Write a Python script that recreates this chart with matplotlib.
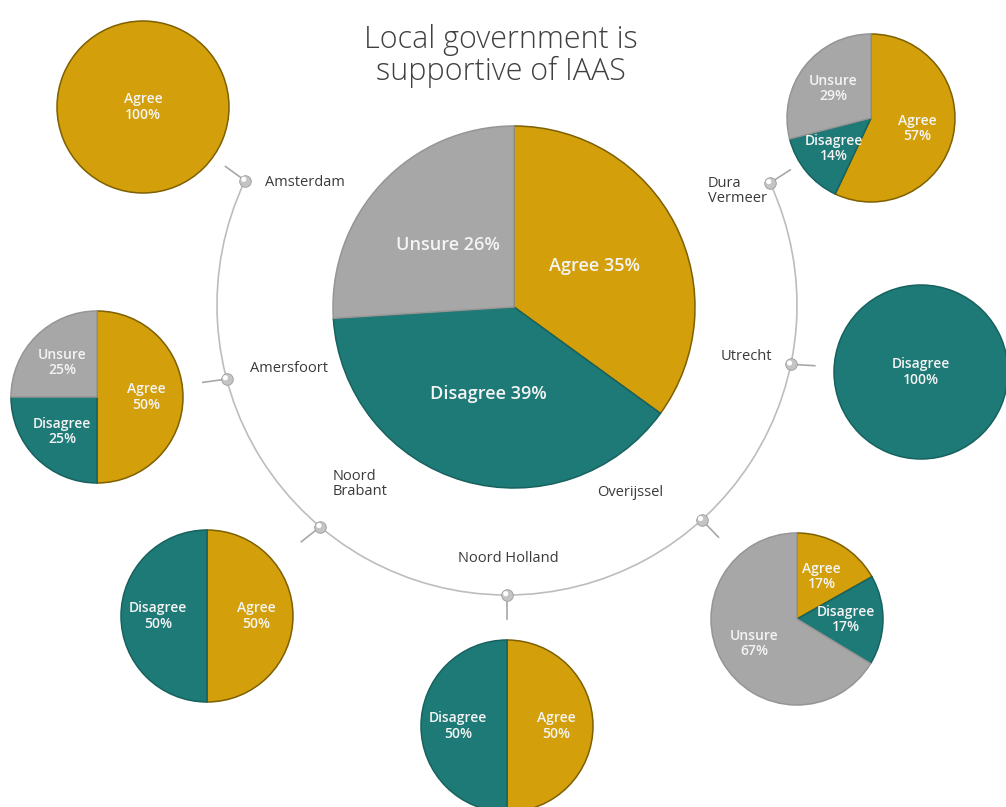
import numpy as np
import matplotlib.pyplot as plt
from matplotlib.patches import Arc

plt.rcParams['font.family'] = ['Open Sans', 'DejaVu Sans']

# survey answers, per location (percent)
locations = ["Overall", "Amsterdam", "Dura Vermeer", "Amersfoort", "Utrecht",
             "Noord Brabant", "Noord Holland", "Overijssel"]
answers = ["Agree", "Disagree", "Unsure"]
agree = [35, 100, 57, 50, 0, 50, 50, 17]
disagree = [39, 0, 14, 25, 100, 50, 50, 17]
unsure = [26, 0, 29, 25, 0, 0, 0, 67]

colors = {"Agree": "#D3A00B", "Disagree": "#1E7A77", "Unsure": "#A7A7A7"}
edges = {"Agree": "#7E6000", "Disagree": "#17625F", "Unsure": "#959595"}

W, H = 1006, 807

def Y(y):
    return H - y

# pie centre (px from top-left) and radius
pie_pos = {
    "Overall": (514, 307, 181),
    "Amsterdam": (143, 107, 86),
    "Dura Vermeer": (871, 118, 84),
    "Amersfoort": (97, 397, 86),
    "Utrecht": (921, 372, 87),
    "Noord Brabant": (207, 616, 86),
    "Noord Holland": (507, 726, 86),
    "Overijssel": (797, 619, 86),
}
# ring with beads
ring_c = (507, 305)
ring_r = 290
bead_angle = {"Amsterdam": 154.6, "Dura Vermeer": 24.9, "Amersfoort": 194.8,
              "Utrecht": 348.2, "Noord Brabant": 229.9, "Noord Holland": 270,
              "Overijssel": 312.2}
label_pos = {
    "Amsterdam": (265, 183, "left"),
    "Dura Vermeer": (708, 191, "left"),
    "Amersfoort": (250, 368, "left"),
    "Utrecht": (721, 356, "left"),
    "Noord Brabant": (333, 484, "left"),
    "Noord Holland": (508, 558, "center"),
    "Overijssel": (597, 493, "left"),
}
label_text = {"Dura Vermeer": "Dura\nVermeer", "Noord Brabant": "Noord\nBrabant"}

fig = plt.figure(figsize=(W / 100, H / 100), dpi=100)
ax = fig.add_axes([0, 0, 1, 1])

# ring
ax.add_patch(Arc((ring_c[0], Y(ring_c[1])), 2 * ring_r, 2 * ring_r,
                 theta1=bead_angle["Amsterdam"], theta2=bead_angle["Dura Vermeer"] + 360,
                 color="#BDBDBD", lw=1.2, zorder=1))

for i, loc in enumerate(locations):
    cx, cy, r = pie_pos[loc]
    vals = [agree[i], disagree[i], unsure[i]]
    names = [a for a, v in zip(answers, vals) if v > 0]
    vals = [v for v in vals if v > 0]
    if loc == "Overall":
        labs = [f"{n} {v}%" for n, v in zip(names, vals)]
        fs, ld = 13, 0.5
    else:
        labs = [f"{n}\n{v}%" for n, v in zip(names, vals)]
        fs, ld = 10, 0.57
    wedges, texts = ax.pie(vals, labels=labs, colors=[colors[n] for n in names],
                           startangle=90, counterclock=False, center=(cx, Y(cy)),
                           radius=r, labeldistance=ld,
                           wedgeprops=dict(linewidth=1.1),
                           textprops=dict(color="#F4F4F4", fontsize=fs,
                                          fontweight="semibold", ha="center",
                                          va="center", linespacing=1.1))
    for w, n in zip(wedges, names):
        w.set_edgecolor(edges[n])
        w.set_zorder(2)
    for t in texts:
        t.set_zorder(3)
        t.set_ha("center")
        if len(vals) == 1:
            t.set_position((cx, Y(cy)))

    if loc == "Overall":
        continue
    # bead, spoke and label
    a = np.radians(bead_angle[loc])
    bx = ring_c[0] + ring_r * np.cos(a)
    by = Y(ring_c[1]) + ring_r * np.sin(a)
    d = np.array([cx - bx, Y(cy) - by])
    d = d / np.hypot(*d)
    ax.plot([bx, bx + 24 * d[0]], [by, by + 24 * d[1]], color="#A8A8A8", lw=1.2, zorder=1)
    ax.scatter([bx], [by], s=70, color="#C4C4C4", edgecolor="#9C9C9C", lw=0.6, zorder=4)
    ax.scatter([bx - 1.3], [by + 1.3], s=14, color="white", edgecolor="none", zorder=5)
    lx, ly, ha = label_pos[loc]
    ax.text(lx, Y(ly), label_text.get(loc, loc), ha=ha, va="center", fontsize=10.5,
            color="#3A3A3A", linespacing=1.05, zorder=5)

ax.text(501, Y(56), "Local government is\nsupportive of IAAS", ha="center", va="center",
        fontsize=22, fontweight="light", color="#404040", linespacing=1.0)

ax.set_xlim(0, W)
ax.set_ylim(0, H)
ax.set_aspect("equal")
ax.axis("off")
fig.savefig("out.png", dpi=100)
